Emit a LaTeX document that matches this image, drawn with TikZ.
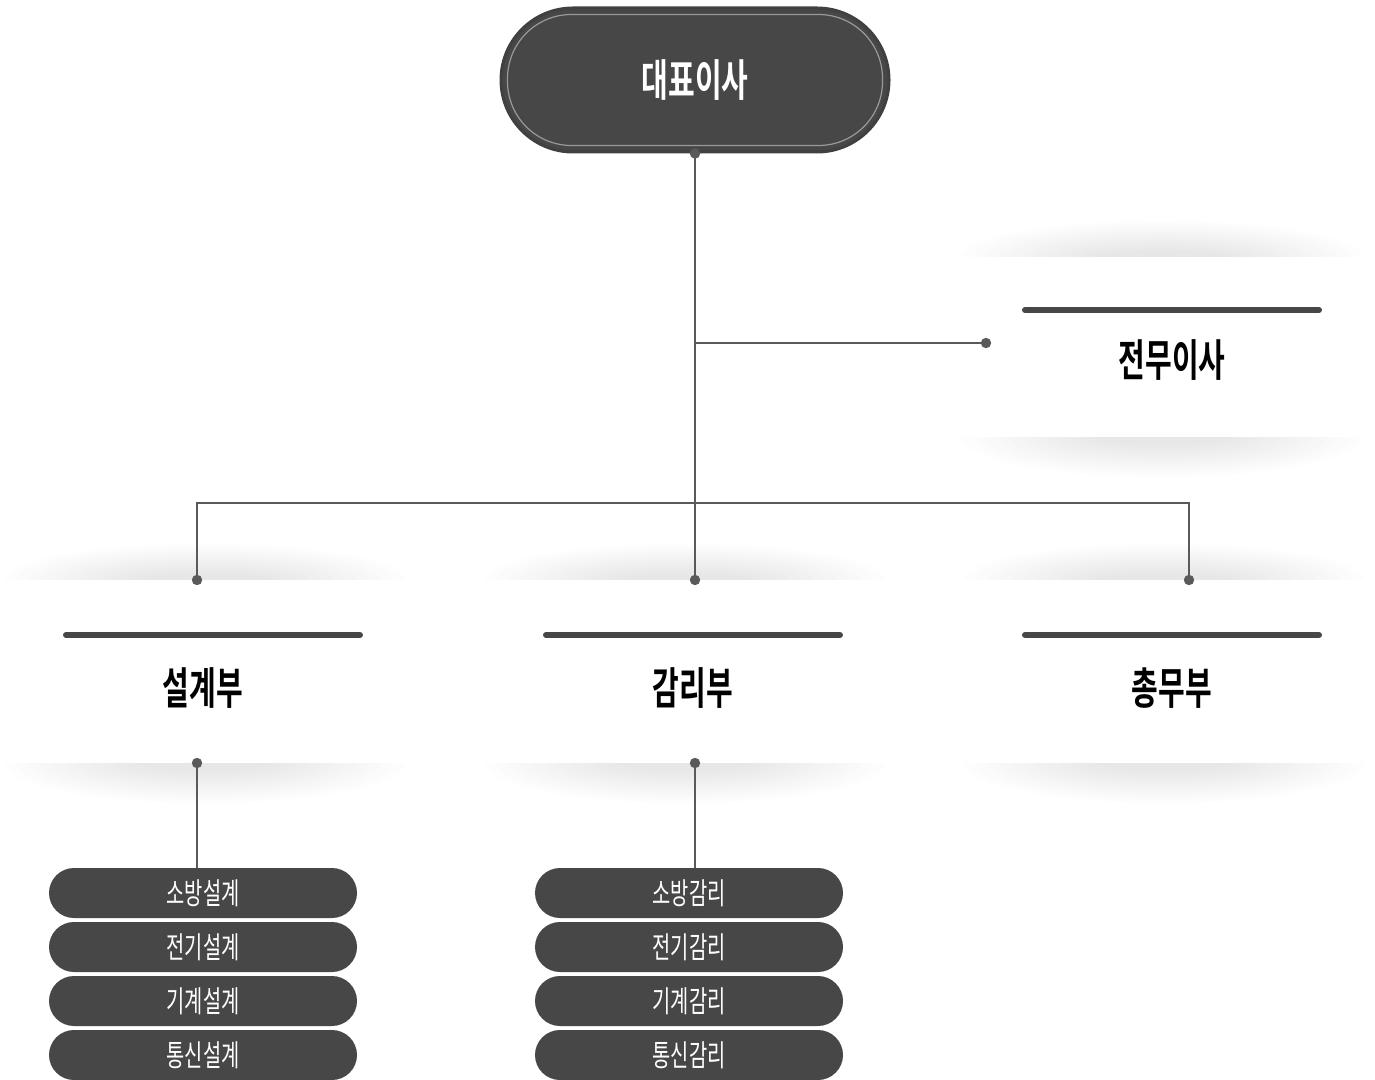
\documentclass[tikz,border=0pt]{standalone}
\usepackage{fontspec}
\setmainfont{Noto Sans CJK KR}[BoldFont={Noto Sans CJK KR Bold}]
\definecolor{boxdark}{HTML}{474747}
\definecolor{linegray}{HTML}{5a5a5a}
\newcommand{\sqz}[1]{\scalebox{0.66}[1]{#1}}
\tikzset{
  pill/.style={rectangle, rounded corners=12.5pt, fill=boxdark, text=white, minimum width=154pt, minimum height=25pt, inner sep=0pt, font=\fontsize{15}{16}\selectfont},
  head/.style={font=\bfseries\fontsize{22}{24}\selectfont, text=black, inner sep=0pt},
  panel/.style={rectangle, fill=white, inner sep=0pt, minimum width=204pt},
  bar/.style={line width=3pt, line cap=round, draw=boxdark},
  link/.style={draw=linegray, line width=0.7pt},
  haze/.style={fill=black, opacity=0.008},
}
\begin{document}
\begin{tikzpicture}[x=0.5pt,y=-0.5pt]
    \useasboundingbox (0,0) rectangle (1375,1080);

    \foreach \cx/\yt/\yb in {1162/257/437, 205/580/763, 685/580/763, 1164/580/763}
        \foreach \k in {0,...,11} {
            \fill[haze] (\cx,\yt) ellipse ({200-\k*12} and {36-\k*2.6});
            \fill[haze] (\cx,\yb) ellipse ({200-\k*12} and {40-\k*2.9});
        }
    \node[panel, minimum height=90pt] (execbox) at (1162,347) {};
    \node[panel, minimum height=91.5pt] (designbox) at (205,671.5) {};
    \node[panel, minimum height=91.5pt] (auditbox) at (685,671.5) {};
    \node[panel, minimum height=91.5pt] (adminbox) at (1164,671.5) {};

    \node[rectangle, rounded corners=36pt, fill=boxdark, draw=black!75, line width=1.5pt,
          minimum width=194pt, minimum height=72pt, text=white,
          font=\bfseries\fontsize{22}{24}\selectfont] (ceo) at (695,80) {\sqz{대표이사}};
    \draw[black!40, line width=0.6pt, rounded corners=32pt]
        ([shift={(4pt,-4pt)}]ceo.north west) rectangle ([shift={(-4pt,4pt)}]ceo.south east);

    \draw[bar] (66,635) -- (360,635);
    \draw[bar] (546,635) -- (840,635);
    \draw[bar] (1025,635) -- (1319,635);
    \draw[bar] (1025,310) -- (1319,310);

    \node[head] (exec) at (1172,360) {\sqz{전무이사}};
    \node[head] (design) at (203,688) {\sqz{설계부}};
    \node[head] (audit) at (693,688) {\sqz{감리부}};
    \node[head] (admin) at (1172,688) {\sqz{총무부}};

    \foreach \i/\kind in {1/소방,2/전기,3/기계,4/통신} {
        \node[pill] (d\i) at (203,839+54*\i) {\sqz{{\kind}설계}};
        \node[pill] (a\i) at (689,839+54*\i) {\sqz{{\kind}감리}};
    }

    \coordinate (execDot) at (986,343);
    \coordinate (designTop) at (197,580);
    \coordinate (auditTop) at (695,580);
    \coordinate (adminTop) at (1189,580);
    \coordinate (designBot) at (197,763);
    \coordinate (auditBot) at (695,763);

    \draw[link] (ceo.south) -- (auditTop);
    \draw[link] (ceo.south |- execDot) -- (execDot);
    \draw[link] (designTop) -- (designTop |- 0,503) -- (adminTop |- 0,503) -- (adminTop);
    \draw[link] (designBot) -- (designBot |- d1.north);
    \draw[link] (auditBot) -- (auditBot |- a1.north);
    \foreach \p in {ceo.south, execDot, designTop, auditTop, adminTop, designBot, auditBot}
        \fill[linegray] (\p) circle (2.6pt);
\end{tikzpicture}
\end{document}
